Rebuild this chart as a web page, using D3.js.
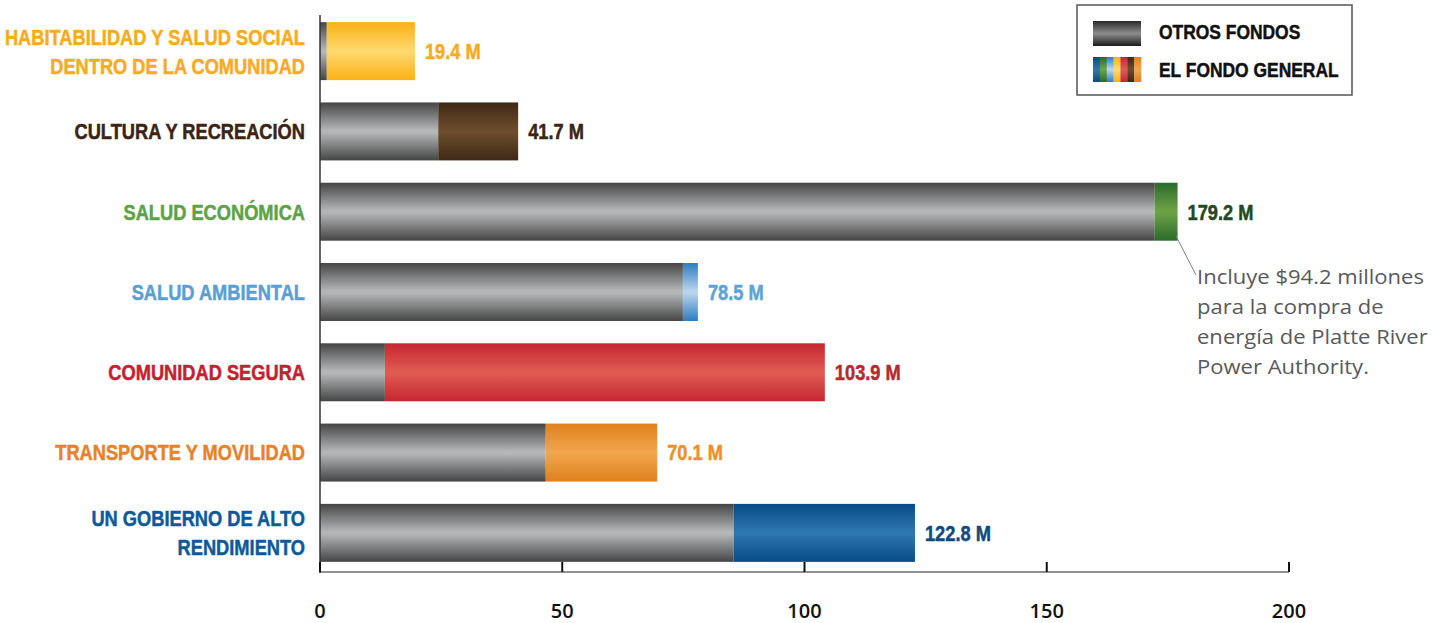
<!DOCTYPE html>
<head>
  <title>Presupuesto por resultado</title>
  <meta charset="utf-8">
  <script src="https://d3js.org/d3.v7.min.js"></script>
  <style>
    body { margin: 0; background: #fff; }
    .cat, .val, .leg { font-family: "Liberation Sans", Arial, sans-serif; font-weight: bold; stroke-width: 0.5px; }
    .tick-lbl { font-family: "Open Sans", "Noto Sans", sans-serif; font-weight: 600; }
    .note { font-family: "Open Sans", "Noto Sans", sans-serif; fill: #58595b; }
  </style>
</head>
<body>
  <div class="container"></div>
  <script>
'use strict';
var width = 1447;
var height = 623;

// data (millions)
var categories = ['HABITABILIDAD Y SALUD SOCIAL|DENTRO DE LA COMUNIDAD', 'CULTURA Y RECREACIÓN',
  'SALUD ECONÓMICA', 'SALUD AMBIENTAL', 'COMUNIDAD SEGURA', 'TRANSPORTE Y MOVILIDAD',
  'UN GOBIERNO DE ALTO|RENDIMIENTO'];
var otrosFondos = [1.4, 24.4, 172.3, 74.9, 13.4, 46.6, 85.4];
var fondoGeneral = [18.2, 16.5, 4.7, 3.1, 90.8, 23.0, 37.4];
var totalLabels = ['19.4 M', '41.7 M', '179.2 M', '78.5 M', '103.9 M', '70.1 M', '122.8 M'];
var xTicks = [0, 50, 100, 150, 200];
var legendLabels = ['OTROS FONDOS', 'EL FONDO GENERAL'];
var noteLines = ['Incluye $94.2 millones', 'para la compra de', 'energía de Platte River', 'Power Authority.'];

// colours: [edge, centre] of each bar gradient, and label colours
var barColors = [['#fbb116', '#fdd86c'], ['#3d2915', '#6d4c2d'], ['#2b6a2b', '#6ca246'],
  ['#2a7dc0', '#b8d4ee'], ['#c4262f', '#e05b52'], ['#e0801d', '#f2a54c'], ['#064b86', '#2c77ae']];
var catColors = ['#f7ab1d', '#3a2414', '#5ba346', '#5a9fd4', '#c5202e', '#e8822a', '#0d5a9a'];
var valColors = ['#f7ab1d', '#3b2516', '#1e4a24', '#5ba3d8', '#b52a30', '#ef8f2b', '#0f4a7f'];
var narrow = 0.83; // condensed look for the bold labels

var svg = d3.select('.container')
  .append('svg')
  .attr('width', width)
  .attr('height', height);

var defs = svg.append('defs');
function grad(id, edge, mid, edge2) {
  var g = defs.append('linearGradient').attr('id', id)
    .attr('x1', 0).attr('y1', 0).attr('x2', 0).attr('y2', 1);
  g.append('stop').attr('offset', '0%').attr('stop-color', edge);
  g.append('stop').attr('offset', '48%').attr('stop-color', mid);
  g.append('stop').attr('offset', '52%').attr('stop-color', mid);
  g.append('stop').attr('offset', '100%').attr('stop-color', edge2 || edge);
}
grad('gray', '#454545', '#b5b6b8');
grad('grayLeg', '#2a2a2a', '#8a8a8a', '#1a1a1a');
barColors.forEach(function (c, i) { grad('g' + i, c[0], c[1]); });

var x = d3.scaleLinear().domain([0, 200]).range([320, 1289]);
var y = d3.scaleBand().domain(d3.range(categories.length)).range([11, 573])
  .paddingInner(0.278).paddingOuter(0.139);

var rows = svg.selectAll('g.row')
  .data(categories)
  .enter().append('g')
  .attr('class', 'row');

rows.append('rect')
  .attr('x', x(0))
  .attr('y', function (d, i) { return y(i); })
  .attr('width', function (d, i) { return x(otrosFondos[i]) - x(0); })
  .attr('height', y.bandwidth())
  .attr('fill', 'url(#gray)');

rows.append('rect')
  .attr('x', function (d, i) { return x(otrosFondos[i]); })
  .attr('y', function (d, i) { return y(i); })
  .attr('width', function (d, i) { return x(otrosFondos[i] + fondoGeneral[i]) - x(otrosFondos[i]); })
  .attr('height', y.bandwidth())
  .attr('fill', function (d, i) { return 'url(#g' + i + ')'; });

rows.append('g')
  .attr('transform', function (d, i) {
    return 'translate(' + (x(otrosFondos[i] + fondoGeneral[i]) + 10) + ',' + (y(i) + y.bandwidth() / 2) + ') scale(' + narrow + ',1)';
  })
  .append('text')
  .attr('class', 'val')
  .attr('dy', '0.36em')
  .attr('font-size', 22)
  .attr('fill', function (d, i) { return valColors[i]; })
  .attr('stroke', function (d, i) { return valColors[i]; })
  .text(function (d, i) { return totalLabels[i]; });

rows.each(function (d, i) {
  var lines = d.split('|');
  var t = d3.select(this).append('g')
    .attr('transform', 'translate(305,' + (y(i) + y.bandwidth() / 2) + ') scale(' + narrow + ',1)')
    .append('text')
    .attr('class', 'cat')
    .attr('text-anchor', 'end')
    .attr('font-size', 22)
    .attr('fill', catColors[i])
    .attr('stroke', catColors[i]);
  lines.forEach(function (l, k) {
    t.append('tspan')
      .attr('x', 0)
      .attr('y', (k - (lines.length - 1) / 2) * 29)
      .attr('dy', '0.36em')
      .text(l);
  });
});

// axes
var axisY = 572;
svg.append('line')
  .attr('x1', x(0)).attr('x2', x(200))
  .attr('y1', axisY).attr('y2', axisY)
  .attr('stroke', '#6d6e70').attr('stroke-width', 1.5);
svg.append('line')
  .attr('x1', x(0)).attr('x2', x(0))
  .attr('y1', 15).attr('y2', axisY + 1)
  .attr('stroke', '#333').attr('stroke-width', 1.5);

var ticks = svg.selectAll('g.tick')
  .data(xTicks)
  .enter().append('g')
  .attr('class', 'tick')
  .attr('transform', function (d) { return 'translate(' + x(d) + ',0)'; });
ticks.append('line')
  .attr('y1', axisY - 10).attr('y2', axisY)
  .attr('stroke', '#111').attr('stroke-width', 2);
ticks.append('text')
  .attr('class', 'tick-lbl')
  .attr('y', 611)
  .attr('dy', '0.35em')
  .attr('text-anchor', 'middle')
  .attr('font-size', 20)
  .attr('fill', '#111')
  .text(function (d) { return d; });

// annotation
svg.append('line')
  .attr('x1', 1176).attr('y1', 236)
  .attr('x2', 1196).attr('y2', 275)
  .attr('stroke', '#808285').attr('stroke-width', 1);
svg.append('g')
  .attr('transform', 'translate(1197,284) scale(1.13,1)')
  .append('text')
  .attr('class', 'note')
  .attr('font-size', 19.5)
  .selectAll('tspan')
  .data(noteLines)
  .enter().append('tspan')
  .attr('x', 0)
  .attr('y', function (d, i) { return i * 30; })
  .text(function (d) { return d; });

// legend
var leg = svg.append('g').attr('transform', 'translate(1077,5)');
leg.append('rect')
  .attr('width', 275).attr('height', 90)
  .attr('fill', '#fff').attr('stroke', '#555').attr('stroke-width', 1.5);
leg.append('rect')
  .attr('x', 16).attr('y', 16).attr('width', 48).attr('height', 25)
  .attr('fill', 'url(#grayLeg)');
var sw = 48 / barColors.length;
var stripeOrder = [6, 2, 3, 0, 4, 1, 5];
leg.selectAll('rect.stripe')
  .data(stripeOrder)
  .enter().append('rect')
  .attr('class', 'stripe')
  .attr('x', function (d, i) { return 16 + i * sw; })
  .attr('y', 52).attr('width', sw + 0.3).attr('height', 25)
  .attr('fill', function (d) { return 'url(#g' + d + ')'; });
leg.selectAll('g.legtext')
  .data(legendLabels)
  .enter().append('g')
  .attr('class', 'legtext')
  .attr('transform', function (d, i) { return 'translate(82,' + (i === 0 ? 27 : 65) + ') scale(' + narrow + ',1)'; })
  .append('text')
  .attr('class', 'leg')
  .attr('dy', '0.35em')
  .attr('font-size', 21)
  .attr('fill', '#111')
  .attr('stroke', '#111')
  .text(function (d) { return d; });
  </script>
</body>
